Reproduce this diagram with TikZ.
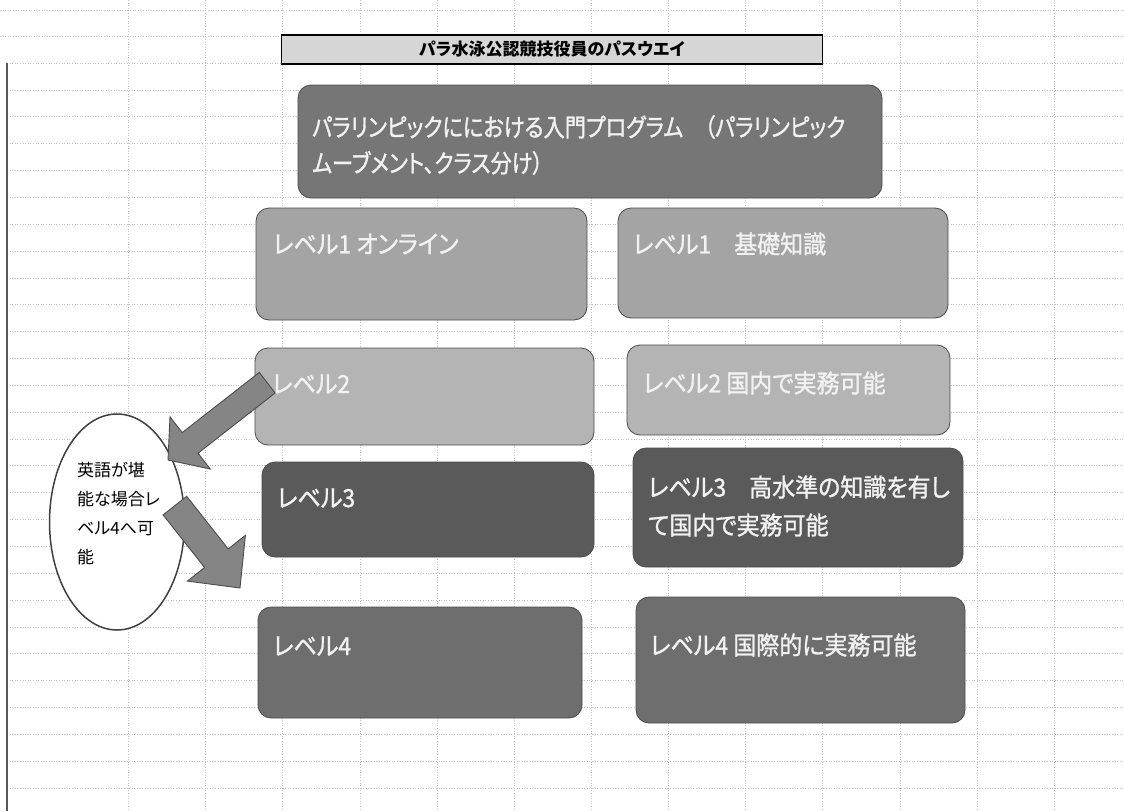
\documentclass[tikz,border=0pt]{standalone}
\usepackage{fontspec}
\newfontfamily\jp[RawFeature=+palt]{Noto Sans CJK JP}
\newfontfamily\jpn[RawFeature=+palt,FakeStretch=0.92,FakeBold=1.2]{Noto Sans CJK JP}
\newfontfamily\jpt[RawFeature=+palt,FakeStretch=0.85,FakeBold=1.2]{Noto Sans CJK JP}
\usetikzlibrary{shapes.geometric}
\definecolor{gridc}{HTML}{C4C4C4}
\definecolor{titlec}{HTML}{D6D6D6}
\definecolor{topc}{HTML}{767676}
\definecolor{lonec}{HTML}{A4A4A4}
\definecolor{ltwoc}{HTML}{B4B4B4}
\definecolor{lthreec}{HTML}{5A5A5A}
\definecolor{lfourc}{HTML}{6E6E6E}
\definecolor{arrowc}{HTML}{858585}
\definecolor{txtc}{HTML}{F2F2F2}
\begin{document}
\begin{tikzpicture}[x=1pt,y=-1pt,
  gridline/.style={gridc, line width=0.6pt, dotted},
  box/.style={draw=black!70, line width=0.8pt, rounded corners=13pt, inner sep=0pt},
  lbl/.style={anchor=west, inner sep=0pt, text=txtc, font=\jpn\fontsize{25}{38}\selectfont, align=left},
  blockarrow/.style={fill=arrowc, draw=black!70, line width=0.9pt, line join=miter}
]
\useasboundingbox[fill=white] (0,0) rectangle (1124,811);
% spreadsheet grid
\foreach \y in {10,36} \draw[gridline] (0,\y) -- (1124,\y);
\foreach \k in {0,...,27} \draw[gridline] (7,{63+26.85*\k}) -- (1124,{63+26.85*\k});
\foreach \x in {128,205,282,360,437,514,591,668,745,822,900,977,1054} \draw[gridline] (\x,0) -- (\x,811);
\coordinate (lt) at (7,63);
\coordinate (lb) at (7,811);
\draw[black!65, line width=2pt] (lt) -- (lb);
% title
\node[draw=black, line width=1.6pt, fill=titlec, minimum width=541, minimum height=29, inner sep=0pt,
  font=\jp\bfseries\fontsize{17}{17}\selectfont] (title) at (552,49.5) {パラ水泳公認競技役員のパスウエイ};
% top box
\node[box, fill=topc, minimum width=584, minimum height=113] (top) at (590,141.5) {};
\node[lbl, font=\jpt\fontsize{25}{36}\selectfont] (topt) at (312,145) {パラリンピックににおける入門プログラム　（パラリンピック\\ムーブメント、クラス分け）};
% level boxes
\node[box, fill=lonec, minimum width=331, minimum height=112] (l1L) at (421.5,264) {};
\node[box, fill=lonec, minimum width=330, minimum height=110] (l1R) at (783,263) {};
\node[box, fill=ltwoc, minimum width=339, minimum height=97] (l2L) at (424.5,396.5) {};
\node[box, fill=ltwoc, minimum width=323, minimum height=90] (l2R) at (788.5,390) {};
\node[box, fill=lthreec, minimum width=332, minimum height=95] (l3L) at (428,509.5) {};
\node[box, fill=lthreec, minimum width=330, minimum height=119] (l3R) at (798,507.5) {};
\node[box, fill=lfourc, minimum width=324, minimum height=111] (l4L) at (420,662.5) {};
\node[box, fill=lfourc, minimum width=329, minimum height=126] (l4R) at (800.5,660) {};
% ellipse
\node[ellipse, draw=black!75, line width=1.5pt, fill=white, minimum width=135, minimum height=216,
  inner sep=0pt] (eng) at (117,522) {};
\node[anchor=north west, inner sep=0pt, align=left, font=\jp\fontsize{17}{29}\selectfont] (engt) at (77,462)
  {英語が堪\\能な場合レ\\ベル4へ可\\能};
% block arrows
\draw[blockarrow] (168,460) -- (210.2,469.0) -- (198.0,453.2) -- (275.1,393.0) -- (259.3,372.4)
  -- (182.2,432.6) -- (170.0,416.8) -- cycle;
\draw[blockarrow] (240,588) -- (245.4,535.3) -- (228.2,548.9) -- (186.7,496.3) -- (163.1,514.9)
  -- (204.6,567.5) -- (187.4,581.1) -- cycle;
% labels
\node[lbl] (l1Lt) at (273,244) {レベル1 オンライン};
\node[lbl] (l1Rt) at (633,244) {レベル1　基礎知識};
\node[lbl] (l2Lt) at (272,384) {レベル2};
\node[lbl] (l2Rt) at (643,383) {レベル2 国内で実務可能};
\node[lbl] (l3Lt) at (277,498) {レベル3};
\node[lbl] (l3Rt) at (648,506) {レベル3　高水準の知識を有し\\て国内で実務可能};
\node[lbl] (l4Lt) at (273,646) {レベル4};
\node[lbl] (l4Rt) at (650,645) {レベル4 国際的に実務可能};
\end{tikzpicture}
\end{document}
